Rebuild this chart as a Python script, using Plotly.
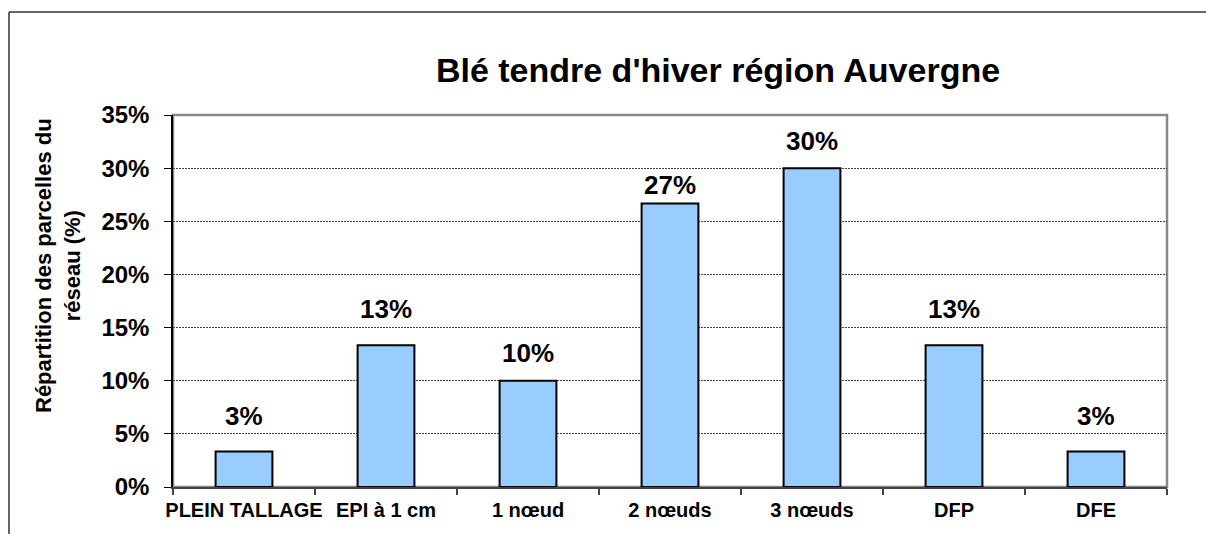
import plotly.graph_objects as go

categories = ["PLEIN TALLAGE", "EPI à 1 cm", "1 nœud", "2 nœuds", "3 nœuds", "DFP", "DFE"]
values = [3.33, 13.33, 10.0, 26.67, 30.0, 13.33, 3.33]
y_ticks = [0, 5, 10, 15, 20, 25, 30, 35]
y_tick_labels = [f"{v}%" for v in y_ticks]
title_text = "Blé tendre d'hiver région Auvergne"
ytitle_text = "Répartition des parcelles du<br>réseau (%)"

# vertical pixel offset of each value label above its bar (styling)
label_shifts = [19, 19, 11, 2, 10, 19, 19]

W, H = 1206, 534
L, R, T, B = 173, 1167, 115, 487
FONT = "Liberation Sans, Arial, sans-serif"

def px_x(p):
    return (p - L) / (R - L)

def px_y(p):
    return (B - p) / (B - T)

fig = go.Figure()
fig.add_trace(go.Bar(
    x=categories, y=values,
    marker=dict(color="#99CCFF", line=dict(color="black", width=2)),
    width=0.4,
    hoverinfo="skip",
))

for c, v, s in zip(categories, values, label_shifts):
    fig.add_annotation(
        x=c, y=v, text=f"<b>{round(v):d}%</b>", showarrow=False,
        yanchor="bottom", yshift=s,
        font=dict(family=FONT, size=26, color="black"),
    )

# y axis title
fig.add_annotation(
    xref="paper", yref="paper", x=px_x(58), y=px_y(266),
    text=f"<b>{ytitle_text}</b>", textangle=-90, showarrow=False,
    font=dict(family=FONT, size=22, color="black"),
    xanchor="center", yanchor="middle",
)

# plot area border (top/right grey)
fig.add_shape(type="rect", xref="paper", yref="paper", x0=0, x1=1, y0=0, y1=1,
              line=dict(color="#888888", width=2.5), layer="below")
# outer chart border
fig.add_shape(type="line", xref="paper", yref="paper",
              x0=px_x(9), x1=px_x(1210), y0=px_y(12), y1=px_y(12),
              line=dict(color="#333333", width=1.5))
fig.add_shape(type="line", xref="paper", yref="paper",
              x0=px_x(9), x1=px_x(9), y0=px_y(12), y1=px_y(540),
              line=dict(color="#333333", width=1.5))

fig.update_layout(
    width=W, height=H,
    margin=dict(l=L, r=W - R, t=T, b=H - B, autoexpand=False),
    paper_bgcolor="white", plot_bgcolor="white",
    showlegend=False,
    title=dict(text=f"<b>{title_text}</b>", x=px_x(718), xref="paper", xanchor="center",
               y=1 - 70 / H, yref="container", yanchor="middle",
               font=dict(family=FONT, size=34, color="black")),
    xaxis=dict(
        type="category", tickson="boundaries", ticks="outside", ticklen=6,
        tickcolor="#444", tickwidth=1.5, tickangle=0, automargin=False,
        showline=True, linecolor="#444", linewidth=2,
        tickfont=dict(family=FONT, size=20, color="black"),
        tickprefix="<b>", ticksuffix="</b>", ticklabelstandoff=4,
        showgrid=False, range=[-0.5, 6.5], fixedrange=True,
    ),
    yaxis=dict(
        range=[0, 35], tickvals=y_ticks, ticktext=[f"<b>{t}</b>" for t in y_tick_labels],
        ticks="outside", ticklen=7, tickcolor="black", tickwidth=1, automargin=False,
        showline=True, linecolor="black", linewidth=1.5,
        tickfont=dict(family=FONT, size=24, color="black"),
        showgrid=True, gridcolor="#444444", gridwidth=1, griddash="2px,1px",
        zeroline=False, ticklabelstandoff=10, fixedrange=True,
    ),
)

fig.write_html("out.html", config={"displayModeBar": False},
               post_script="document.body.style.margin='0';document.body.style.overflow='hidden';")
